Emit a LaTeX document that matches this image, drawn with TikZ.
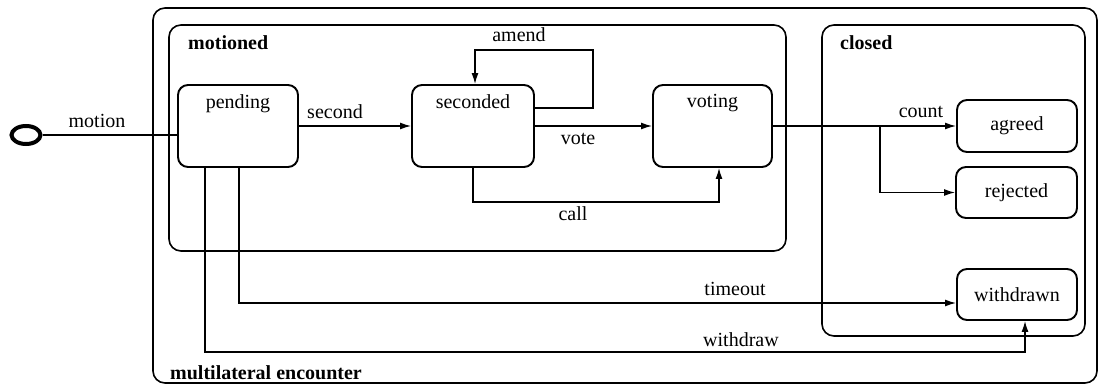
\documentclass[tikz,border=0pt]{standalone}
\usepackage{fontspec}
\setmainfont{Liberation Serif}
\usetikzlibrary{arrows.meta,shapes.geometric}
\begin{document}
\begin{tikzpicture}[x=1pt,y=-1pt,
  font=\fontsize{20}{24}\selectfont,
  container/.style={draw, line width=1.6pt, rounded corners=12pt, inner sep=0pt},
  state/.style={draw, line width=1.9pt, rounded corners=10pt, inner sep=0pt},
  arr/.style={line width=1.4pt, -{Latex[length=11pt,width=7pt]}},
  plain/.style={line width=1.4pt},
  lbl/.style={inner sep=0pt},
  title/.style={inner sep=0pt, anchor=west, font=\fontsize{20}{24}\selectfont\bfseries}]
\useasboundingbox (0,0) rectangle (1100,385);

% composite states
\node[container, minimum width=944pt, minimum height=375pt] (encounter) at (625,195.5) {};
\node[container, minimum width=617pt, minimum height=226pt] (motioned) at (477.5,138) {};
\node[container, minimum width=263pt, minimum height=311pt] (closed) at (953.5,180.5) {};
\node[title] (encountertitle) at (170,373) {multilateral encounter};
\node[title] (motionedtitle) at (188,43) {motioned};
\node[title] (closedtitle) at (840,43) {closed};

% initial pseudo-state
\node[draw, ellipse, line width=4pt, minimum width=29pt, minimum height=18pt, inner sep=0pt] (init) at (26,135) {};

% simple states
\node[state, minimum width=120pt, minimum height=82pt,
  label={[lbl, anchor=north, yshift=-10pt]north:pending}] (pending) at (238,126) {};
\node[state, minimum width=122pt, minimum height=82pt,
  label={[lbl, anchor=north, yshift=-10pt]north:seconded}] (seconded) at (473,126) {};
\node[state, minimum width=119pt, minimum height=82pt,
  label={[lbl, anchor=north, yshift=-10pt]north:voting}] (voting) at (712.5,126) {};
\node[state, minimum width=120pt, minimum height=52pt] (agreed) at (1017,126) {agreed};
\node[state, minimum width=121pt, minimum height=51pt] (rejected) at (1016.5,192.5) {rejected};
\node[state, minimum width=120pt, minimum height=51pt] (withdrawn) at (1017,294.5) {withdrawn};

% transitions
\draw[plain] (init.east) -- (init.east -| pending.west);
\node[lbl] (motionlbl) at (97,121) {motion};

\draw[arr] (pending.east) -- (seconded.west);
\node[lbl] (secondlbl) at (335,112) {second};

\draw[arr] (seconded.east |- 0,108) -- (593,108) -- (593,50) -- (475,50) -- (475,0 |- seconded.north);
\node[lbl] (amendlbl) at (519,35) {amend};

\draw[arr] (seconded.east) -- (voting.west);
\node[lbl] (votelbl) at (578,139) {vote};

\draw[arr] (seconded.south) |- (719,202) -- (719,0 |- voting.south);
\node[lbl] (calllbl) at (573,214) {call};

\draw[arr] (voting.east) -- (agreed.west);
\draw[arr] (880,0 |- voting.east) |- (rejected.west);
\node[lbl] (countlbl) at (921,112) {count};

\draw[arr] (239,0 |- pending.south) |- (withdrawn.west |- 0,303);
\node[lbl] (timeoutlbl) at (735,289) {timeout};

\draw[arr] (205,0 |- pending.south) |- (1025,352) -- (1025,0 |- withdrawn.south);
\node[lbl] (withdrawlbl) at (741,340) {withdraw};
\end{tikzpicture}
\end{document}
